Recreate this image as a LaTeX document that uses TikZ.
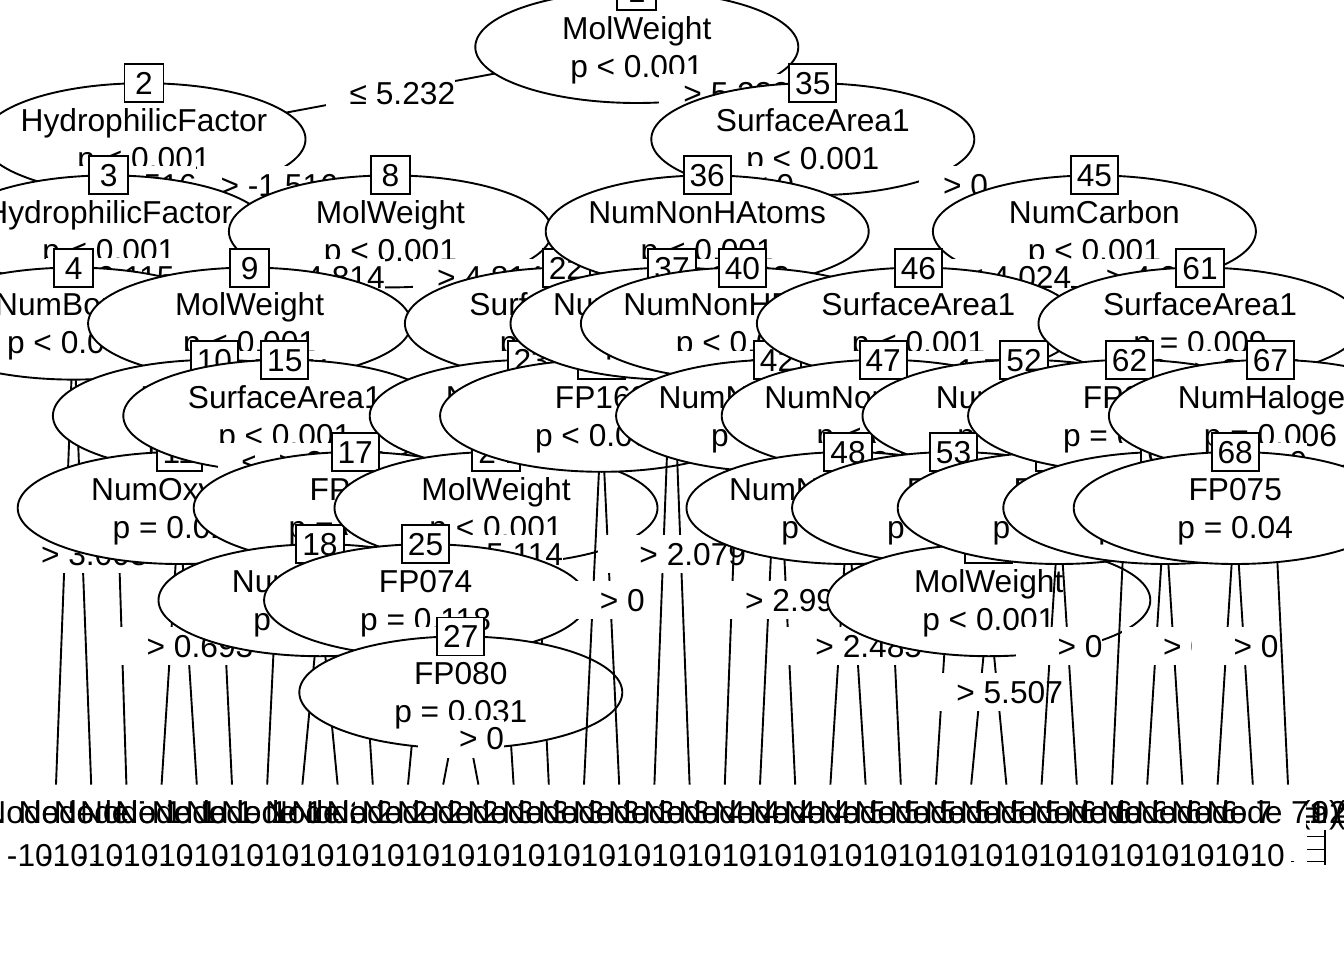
\documentclass[tikz,border=0pt]{standalone}
\usepackage{fontspec}
\setmainfont{Liberation Sans}
\usetikzlibrary{shapes.geometric,calc}

\tikzset{
  treefont/.style={font=\fontsize{31.7pt}{38pt}\selectfont},
  splitnode/.style={ellipse, draw, fill=white, line width=1.9pt, minimum width=323pt, minimum height=112pt, inner sep=0pt},
  vartext/.style={treefont, inner sep=0pt, text height=22.7pt, text depth=0pt},
  idbox/.style={rectangle, draw, fill=white, line width=1.9pt, treefont, minimum width=39pt, minimum height=38pt, inner xsep=6pt, inner ysep=0pt, text height=22.7pt, text depth=0pt},
  branch/.style={line width=1.9pt},
  edgelab/.style={fill=white, treefont, inner sep=0pt, minimum height=38pt, text height=22.7pt, text depth=0pt},
  termlab/.style={treefont, inner sep=0pt, text height=22.7pt, text depth=0pt}
}

% one split: branches, ellipse with variable and p-value, id box, branch labels
\newcommand{\treesplit}[8]{%
  \draw[branch] (c#1) -- (c#2);
  \draw[branch] (c#1) -- (c#3);
  \node[splitnode] (n#1) at (c#1) {};
  \node[vartext] at ([yshift=19pt]n#1.center) {#4};
  \node[vartext] at ([yshift=-19pt]n#1.center) {#5};
  \node[idbox] at ([yshift=-1pt]n#1.north) {#1};
  \node[edgelab] at ($(c#1)!#6!(c#2)$) {\hspace*{24pt}≤ #8};
  \node[edgelab] at ($(c#1)!#7!(c#3)$) {\hspace*{24pt}> #8};
}

% one leaf panel: white slot, title, axis with its label
\newcommand{\leafpanel}[2]{%
  \fill[white] ([xshift=-17.6pt, yshift=-10pt]c#1) rectangle ([xshift=17.6pt, yshift=-100pt]c#1);
  \node[termlab] at ([xshift=38pt, yshift=-28pt]c#1) {Node #1 (n = #2)};
  \node[termlab, anchor=east] at ([xshift=-3pt, yshift=-71pt]c#1) {-10};
  \draw[line width=1.2pt] ([xshift=37pt, yshift=-45pt]c#1) -- ([xshift=37pt, yshift=-80pt]c#1)
    \foreach \dy in {52,65,77} { ([xshift=19pt, yshift=-\dy pt]c#1) -- ([xshift=37pt, yshift=-\dy pt]c#1) };
  \draw[line width=0.8pt] ([xshift=3pt, yshift=-77pt]c#1) -- ([xshift=6pt, yshift=-77pt]c#1);
}

\begin{document}
\begin{tikzpicture}
  \useasboundingbox (0,0) rectangle (1344pt,-960pt);
  \begin{scope}[x=35.2pt, y=-92.2pt, shift={(38.4pt,-47pt)}]
  % positions: x = leaf slots, y = tree level (8 = top of leaf panels)
  \foreach \id/\u/\k in {1/17/0, 2/3/1, 3/2/2, 4/1/3, 5/.5/8, 6/1.5/8, 7/2.5/8,
      8/10/2, 9/6/3, 10/5/4, 11/4/5, 12/3.5/8, 13/4.5/8, 14/5.5/8, 15/7/4,
      16/6.5/8, 17/9/5, 18/8/6, 19/7.5/8, 20/8.5/8, 21/9.5/8, 22/15/3, 23/14/4,
      24/13/5, 25/11/6, 26/10.5/8, 27/12/7, 28/11.5/8, 29/12.5/8, 30/13.5/8,
      31/14.5/8, 32/16/4, 33/15.5/8, 34/16.5/8, 35/22/1, 36/19/2, 37/18/3,
      38/17.5/8, 39/18.5/8, 40/20/3, 41/19.5/8, 42/21/4, 43/20.5/8, 44/21.5/8,
      45/30/2, 46/25/3, 47/24/4, 48/23/5, 49/22.5/8, 50/23.5/8, 51/24.5/8,
      52/28/4, 53/26/5, 54/25.5/8, 55/27/6, 56/26.5/8, 57/27.5/8, 58/29/5,
      59/28.5/8, 60/29.5/8, 61/33/3, 62/31/4, 63/30.5/8, 64/32/5, 65/31.5/8,
      66/32.5/8, 67/35/4, 68/34/5, 69/33.5/8, 70/34.5/8, 71/35.5/8}
    \coordinate (c\id) at (\u,\k);

  % inner nodes, drawn in node order
  \treesplit{1}{2}{35}{MolWeight}{p < 0.001}{.5}{.5}{5.232}
  \treesplit{2}{3}{8}{HydrophilicFactor}{p < 0.001}{.5}{.5}{-1.516}
  \treesplit{3}{4}{7}{HydrophilicFactor}{p < 0.001}{.5}{.0833}{0.115}
  \treesplit{4}{5}{6}{NumBonds}{p < 0.001}{.5}{.5}{3.008}
  \treesplit{8}{9}{22}{MolWeight}{p < 0.001}{.5}{.5}{4.814}
  \treesplit{9}{10}{15}{MolWeight}{p < 0.001}{.5}{.5}{5.071}
  \treesplit{10}{11}{14}{NumRings}{p < 0.001}{.5}{.125}{2}
  \treesplit{11}{12}{13}{NumOxygen}{p = 0.017}{.5}{.5}{0.693}
  \treesplit{15}{16}{17}{SurfaceArea1}{p < 0.001}{.125}{.5}{8.505}
  \treesplit{17}{18}{21}{FP116}{p = 0.003}{.5}{.1667}{0}
  \treesplit{18}{19}{20}{NumOxygen}{p = 0.012}{.5}{.5}{1}
  \treesplit{22}{23}{32}{SurfaceArea1}{p < 0.001}{.5}{.5}{0.11}
  \treesplit{23}{24}{31}{NumCarbon}{p < 0.001}{.5}{.125}{3.614}
  \treesplit{24}{25}{30}{MolWeight}{p < 0.001}{.5}{.1667}{5.114}
  \treesplit{25}{26}{27}{FP074}{p = 0.118}{.25}{.5}{0}
  \treesplit{27}{28}{29}{FP080}{p = 0.031}{.5}{.5}{0}
  \treesplit{32}{33}{34}{FP168}{p < 0.001}{.5}{.5}{0}
  \treesplit{35}{36}{45}{SurfaceArea1}{p < 0.001}{.5}{.5}{0}
  \treesplit{36}{37}{40}{NumNonHAtoms}{p < 0.001}{.5}{.5}{2.833}
  \treesplit{37}{38}{39}{NumNonHBonds}{p < 0.001}{.5}{.5}{2.079}
  \treesplit{40}{41}{42}{NumNonHBonds}{p < 0.001}{.1}{.5}{2.565}
  \treesplit{42}{43}{44}{NumNonHBonds}{p = 0.002}{.5}{.5}{2.996}
  \treesplit{45}{46}{61}{NumCarbon}{p < 0.001}{.5}{.5}{4.024}
  \treesplit{46}{47}{52}{SurfaceArea1}{p < 0.001}{.5}{.5}{1.715}
  \treesplit{47}{48}{51}{NumNonHAtoms}{p < 0.001}{.5}{.125}{3.045}
  \treesplit{48}{49}{50}{NumNonHBonds}{p = 0.007}{.5}{.5}{2.485}
  \treesplit{52}{53}{58}{NumOxygen}{p < 0.001}{.5}{.5}{1.414}
  \treesplit{53}{54}{55}{FP063}{p = 0.002}{.1667}{.5}{0}
  \treesplit{55}{56}{57}{MolWeight}{p < 0.001}{.5}{.5}{5.507}
  \treesplit{58}{59}{60}{FP116}{p = 0.004}{.5}{.5}{0}
  \treesplit{61}{62}{67}{SurfaceArea1}{p = 0.009}{.5}{.5}{2.605}
  \treesplit{62}{63}{64}{FP065}{p = 0.012}{.125}{.5}{0}
  \treesplit{64}{65}{66}{FP040}{p = 0.021}{.5}{.5}{0}
  \treesplit{67}{68}{71}{NumHalogen}{p = 0.006}{.5}{.125}{0}
  \treesplit{68}{69}{70}{FP075}{p = 0.04}{.5}{.5}{0}

  % leaf panels, left to right
  \foreach \id/\n in {5/21,6/15,7/32,12/18,13/25,14/11,16/23,19/17,20/9,21/14,
      26/12,28/16,29/10,30/27,31/19,33/22,34/13,38/24,39/31,41/20,43/17,44/26,
      49/15,50/12,51/28,54/18,56/21,57/14,59/23,60/16,63/25,65/11,66/19,69/22,
      70/13,71/40}
    {\leafpanel{\id}{\n}}
  \end{scope}
\end{tikzpicture}
\end{document}
